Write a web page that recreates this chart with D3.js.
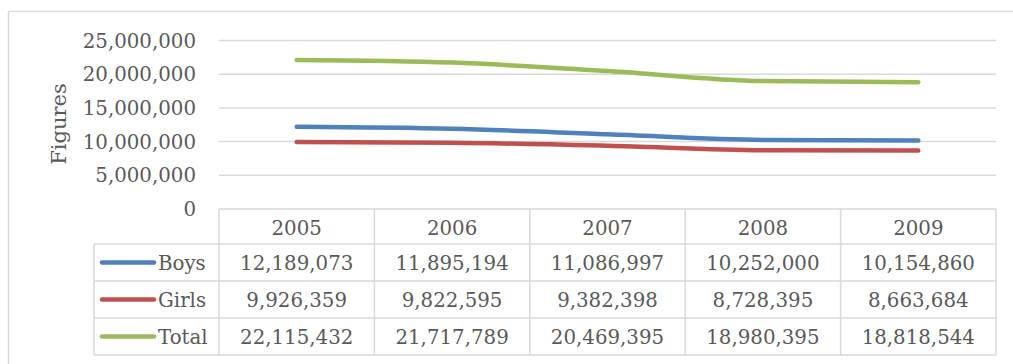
<!DOCTYPE html>
<html>
<head>
<meta charset="utf-8">
<script src="https://cdn.jsdelivr.net/npm/d3@7/dist/d3.min.js"></script>
<style>
  body { margin: 0; background: #fff; }
  text { font-family: "DejaVu Serif", serif; fill: #595959; }
</style>
</head>
<body>
<script>
// chart data
var years = ["2005", "2006", "2007", "2008", "2009"];
var seriesNames = ["Boys", "Girls", "Total"];
var boys = [12189073, 11895194, 11086997, 10252000, 10154860];
var girls = [9926359, 9822595, 9382398, 8728395, 8663684];
var total = [22115432, 21717789, 20469395, 18980395, 18818544];
var yTicks = [0, 5000000, 10000000, 15000000, 20000000, 25000000];
var colors = ["#4f81bd", "#c0504d", "#9bbb59"];

var width = 1013, height = 364;
var plotLeft = 219, plotRight = 996;
var plotTop = 40.5, plotBottom = 209;
var headerH = 35, rowH = 37;
var legendLeft = 94;
var fontSize = 19.8;
var gridColor = "#d9d9d9";

var svg = d3.select("body").append("svg")
  .attr("width", width)
  .attr("height", height);

// outer chart border
svg.append("rect")
  .attr("x", 8.5).attr("y", 11.5)
  .attr("width", 1020).attr("height", 370)
  .attr("fill", "none")
  .attr("stroke", gridColor)
  .attr("stroke-width", 1.5);

var x = d3.scaleBand().domain(years).range([plotLeft, plotRight]);
var y = d3.scaleLinear().domain([0, 25000000]).range([plotBottom, plotTop]);
var fmt = d3.format(",");

// gridlines (0 line is the table top)
svg.append("g").selectAll("line")
  .data(yTicks.slice(1))
  .enter().append("line")
  .attr("x1", plotLeft).attr("x2", plotRight)
  .attr("y1", function (d) { return y(d); })
  .attr("y2", function (d) { return y(d); })
  .attr("stroke", gridColor)
  .attr("stroke-width", 1.5);

// y tick labels
svg.append("g").selectAll("text")
  .data(yTicks)
  .enter().append("text")
  .attr("x", 196)
  .attr("y", function (d) { return y(d); })
  .attr("dy", "0.36em")
  .attr("text-anchor", "end")
  .style("font-size", fontSize + "px")
  .text(function (d) { return fmt(d); });

// axis title
svg.append("text")
  .attr("transform", "translate(66,124) rotate(-90)")
  .attr("text-anchor", "middle")
  .style("font-size", "21px")
  .text("Figures");

// lines
var allSeries = [boys, girls, total];
var line = d3.line()
  .x(function (d, i) { return x(years[i]) + x.bandwidth() / 2; })
  .y(function (d) { return y(d); })
  .curve(d3.curveMonotoneX);

svg.append("g").selectAll("path")
  .data(allSeries)
  .enter().append("path")
  .attr("d", line)
  .attr("fill", "none")
  .attr("stroke", function (d, i) { return colors[i]; })
  .attr("stroke-width", 4.5)
  .attr("stroke-linecap", "round")
  .attr("stroke-linejoin", "round");

// data table
var table = svg.append("g");
var tableTop = plotBottom;
var rowsTop = tableTop + headerH;
var tableBottom = rowsTop + rowH * seriesNames.length;

function hline(x1, x2, yy) {
  table.append("line").attr("x1", x1).attr("x2", x2).attr("y1", yy).attr("y2", yy)
    .attr("stroke", gridColor).attr("stroke-width", 1.5);
}
function vline(xx, y1, y2) {
  table.append("line").attr("x1", xx).attr("x2", xx).attr("y1", y1).attr("y2", y2)
    .attr("stroke", gridColor).attr("stroke-width", 1.5);
}

hline(plotLeft, plotRight, tableTop);
hline(legendLeft, plotRight, rowsTop);
seriesNames.forEach(function (s, i) {
  hline(legendLeft, plotRight, rowsTop + rowH * (i + 1));
});
vline(legendLeft, rowsTop, tableBottom);
years.forEach(function (yr) { vline(x(yr), tableTop, tableBottom); });
vline(plotRight, tableTop, tableBottom);

// header row
table.selectAll("text.year")
  .data(years)
  .enter().append("text")
  .attr("class", "year")
  .attr("x", function (d) { return x(d) + x.bandwidth() / 2; })
  .attr("y", tableTop + headerH / 2 + 1)
  .attr("dy", "0.36em")
  .attr("text-anchor", "middle")
  .style("font-size", fontSize + "px")
  .text(function (d) { return d; });

// series rows
seriesNames.forEach(function (name, si) {
  var cy = rowsTop + rowH * si + rowH / 2;
  table.append("line")
    .attr("x1", 102).attr("x2", 154)
    .attr("y1", cy).attr("y2", cy)
    .attr("stroke", colors[si])
    .attr("stroke-width", 4.5)
    .attr("stroke-linecap", "round");
  table.append("text")
    .attr("x", 158)
    .attr("y", cy)
    .attr("dy", "0.36em")
    .style("font-size", fontSize + "px")
    .text(name);
  table.selectAll("text.v" + si)
    .data(allSeries[si])
    .enter().append("text")
    .attr("class", "v" + si)
    .attr("x", function (d, i) { return x(years[i]) + x.bandwidth() / 2; })
    .attr("y", cy)
    .attr("dy", "0.36em")
    .attr("text-anchor", "middle")
    .style("font-size", fontSize + "px")
    .text(function (d) { return fmt(d); });
});
</script>
</body>
</html>
